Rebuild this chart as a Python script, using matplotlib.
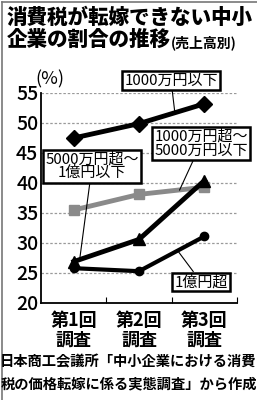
import matplotlib
matplotlib.use("Agg")
import matplotlib.pyplot as plt
from matplotlib.lines import Line2D

plt.rcParams["font.family"] = ["Noto Sans CJK JP", "DejaVu Sans"]

# data
rounds = ["第1回\n調査", "第2回\n調査", "第3回\n調査"]
upto_10m = [47.5, 49.9, 53.2]        # 1000万円以下
from_10m_to_50m = [35.5, 38.1, 39.3]  # 1000万円超～5000万円以下
from_50m_to_100m = [26.9, 30.6, 40.4] # 5000万円超～1億円以下
over_100m = [25.8, 25.3, 31.1]        # 1億円超
yticks = [20, 25, 30, 35, 40, 45, 50, 55]

fig = plt.figure(figsize=(2.57, 4.0), dpi=100)
ax = fig.add_axes([0.16, 0.2425, 0.762, 0.525])

x = [1, 2, 3]
ax.plot(x, from_10m_to_50m, color="#8a8a8a", lw=3.5, marker="s", ms=7, zorder=3)
ax.plot(x, upto_10m, color="black", lw=3.5, marker="D", ms=8, zorder=4)
ax.plot(x, over_100m, color="black", lw=3.0, marker="o", ms=6, zorder=4)
ax.plot(x, from_50m_to_100m, color="black", lw=3.5, marker="^", ms=8, zorder=5)

ax.set_xlim(0.5, 3.5)
ax.set_ylim(20, 55)
ax.set_yticks(yticks)
ax.set_yticklabels([str(v) for v in yticks], fontsize=14, fontweight="medium")
ax.tick_params(axis="y", length=0, pad=2)
for v in yticks[1:]:
    ax.axhline(v, color="#9a9a9a", lw=0.9, ls=(0, (2, 1.5)), zorder=1)

ax.set_xticks(x)
ax.set_xticklabels(rounds, fontsize=13, fontweight="bold", linespacing=1.0)
ax.tick_params(axis="x", length=0, pad=6)
ax.set_xticks([1.5, 2.5, 3.5], minor=True)
ax.tick_params(axis="x", which="minor", direction="in", length=4, width=0.8)

for s in ["top", "right"]:
    ax.spines[s].set_visible(False)
ax.spines["left"].set_linewidth(1.3)
ax.spines["bottom"].set_linewidth(1.3)

ax.text(-0.03, 1.02, "(%)", transform=ax.transAxes, fontsize=13, ha="left", va="bottom")

box = dict(boxstyle="square,pad=0.15", fc="white", ec="black", lw=1.8)
arrow = dict(arrowstyle="-", color="black", lw=0.8, shrinkA=0, shrinkB=0)
labels = [
    ("1000万円以下", (2.55, 51.6), (2.49, 57.1)),
    ("1000万円超～\n5000万円以下", (2.62, 38.8), (2.95, 46.6)),
    ("5000万円超～\n1億円以下", (1.09, 27.2), (1.28, 42.8)),
    ("1億円超", (2.6, 28.6), (2.95, 23.5)),
]
for txt, xy, xyt in labels:
    ax.annotate(txt, xy=xy, xytext=xyt, fontsize=10.8, ha="center", va="center",
                linespacing=1.0, bbox=box, arrowprops=arrow, annotation_clip=False,
                zorder=6)

# title
fig.text(0.025, 0.94, "消費税が転嫁できない中小", fontsize=14.8, fontweight="heavy",
         ha="left", va="baseline")
t2 = fig.text(0.025, 0.885, "企業の割合の推移", fontsize=14.8, fontweight="heavy",
              ha="left", va="baseline")
fig.add_artist(plt.Annotation("(売上高別)", xy=(1.0, 0.0), xycoords=t2, fontsize=10,
                              fontweight="bold", ha="left", va="bottom"))

# source
fig.text(0.5, 0.085, "日本商工会議所「中小企業における消費", fontsize=10.3,
         fontweight="bold", ha="center", va="baseline")
fig.text(0.5, 0.03, "税の価格転嫁に係る実態調査」から作成", fontsize=10.3,
         fontweight="bold", ha="center", va="baseline")

# frame
fig.add_artist(Line2D([0.008, 0.008], [0.0, 0.995], color="#777777", lw=1.2))
fig.add_artist(Line2D([0.008, 1.0], [0.995, 0.995], color="#777777", lw=1.2))

fig.savefig("out.png", dpi=100)
